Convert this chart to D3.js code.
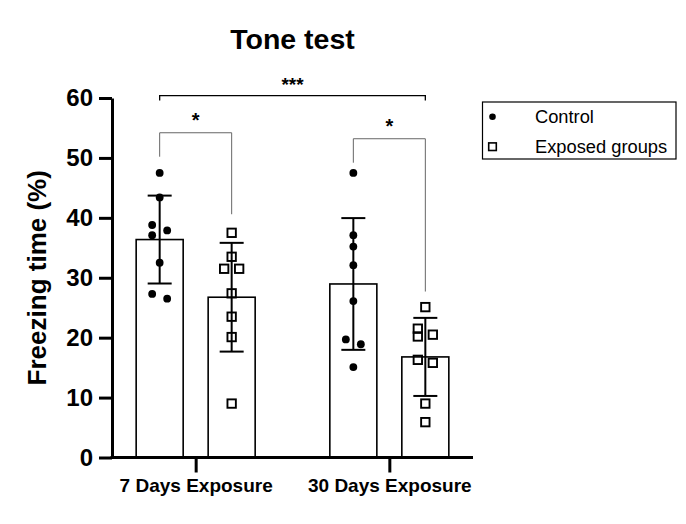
<!DOCTYPE html>
<html>
<head>
<meta charset="utf-8">
<script src="https://cdn.jsdelivr.net/npm/d3@7"></script>
<style>
  body { margin: 0; background: #fff; }
  svg text { font-family: "Liberation Sans", Arial, sans-serif; fill: #000; }
</style>
</head>
<body>
<div id="chart"></div>
<script>
const groups = ['7 Days Exposure', '30 Days Exposure']
const series = ['Control', 'Exposed groups']

// individual animals, freezing time in %
const control7 = [47.5, 43.4, 38.8, 37.9, 37.1, 32.5, 27.3, 26.5]
const exposed7 = [37.5, 33.5, 31.5, 31.5, 27.4, 23.5, 20.1, 9.0]
const control30 = [47.5, 37.1, 35.2, 32.1, 26.1, 19.7, 18.9, 15.1]
const exposed30 = [25.1, 21.5, 20.5, 20.2, 16.3, 15.8, 9.0, 5.9]

const yTicks = [0, 10, 20, 30, 40, 50, 60]

// significance brackets: y values in % units
const sigPairs = [
  { a: 0, b: 1, top: 54.2, legA: 50.2, legB: 40.6, label: '*' },
  { a: 2, b: 3, top: 53.2, legA: 49.2, legB: 27.7, label: '*' }
]
const sigOverall = { a: 0, b: 3, top: 60.4, label: '***' }

const cells = [
  { group: groups[0], serie: series[0], values: control7 },
  { group: groups[0], serie: series[1], values: exposed7 },
  { group: groups[1], serie: series[0], values: control30 },
  { group: groups[1], serie: series[1], values: exposed30 }
]
cells.forEach(c => {
  c.mean = d3.mean(c.values)
  c.sd = d3.deviation(c.values)
})

const width = 686, height = 524

let svg = d3.select('#chart').append('svg')
  .attr('width', width)
  .attr('height', height)

let y = d3.scaleLinear()
  .domain([0, 60])
  .range([457.5, 98])

let x = d3.scalePoint()
  .domain(groups)
  .range([112, 473])
  .padding(0.432)

let sub = d3.scaleBand()
  .domain(series)
  .range([-59.5, 59.5])
  .paddingInner(0.347)

const cx = c => x(c.group) + sub(c.serie) + sub.bandwidth() / 2

// bars
svg.append('g').selectAll('rect')
  .data(cells)
  .enter()
  .append('rect')
  .attr('x', c => x(c.group) + sub(c.serie))
  .attr('width', sub.bandwidth())
  .attr('y', c => y(c.mean))
  .attr('height', c => y(0) - y(c.mean))
  .style('fill', '#fff')
  .style('stroke', '#000')
  .style('stroke-width', 1.6)

// spread points that overlap: clusters alternate left / right
const dodge = (vals) => {
  let order = vals.map((v, i) => i).sort((a, b) => vals[b] - vals[a])
  let out = new Array(vals.length).fill(0)
  let cluster = [order[0]]
  const flush = () => {
    if (cluster.length > 1) cluster.forEach((idx, k) => out[idx] = k % 2 === 0 ? -7.5 : 7.5)
  }
  for (let k = 1; k < order.length; k++) {
    let prev = cluster[cluster.length - 1]
    if (y(vals[order[k]]) - y(vals[prev]) < 11) cluster.push(order[k])
    else { flush(); cluster = [order[k]] }
  }
  flush()
  return out
}

let points = []
cells.forEach(c => {
  let off = dodge(c.values)
  c.values.forEach((v, i) => points.push({ serie: c.serie, px: cx(c) + off[i], py: y(v) }))
})

let pts = svg.append('g')

pts.selectAll('circle')
  .data(points.filter(p => p.serie === series[0]))
  .enter()
  .append('circle')
  .attr('cx', p => p.px)
  .attr('cy', p => p.py)
  .attr('r', 3.9)
  .style('fill', '#000')

pts.selectAll('rect')
  .data(points.filter(p => p.serie === series[1]))
  .enter()
  .append('rect')
  .attr('x', p => p.px - 4.2)
  .attr('y', p => p.py - 4.2)
  .attr('width', 8.4)
  .attr('height', 8.4)
  .style('fill', 'none')
  .style('stroke', '#000')
  .style('stroke-width', 1.9)

// error bars (mean ± SD)
let err = svg.append('g')
  .style('stroke', '#000')
  .style('stroke-width', 2)

cells.forEach(c => {
  let xc = cx(c)
  err.append('line')
    .attr('x1', xc).attr('x2', xc)
    .attr('y1', y(c.mean + c.sd)).attr('y2', y(c.mean - c.sd))
  ;[c.mean + c.sd, c.mean - c.sd].forEach(v => {
    err.append('line')
      .attr('x1', xc - 12).attr('x2', xc + 12)
      .attr('y1', y(v)).attr('y2', y(v))
  })
})

// axes
let yAxis = svg.append('g')
  .attr('transform', 'translate(112,0)')
  .call(d3.axisLeft(y).tickValues(yTicks).tickSize(13).tickSizeOuter(0).tickPadding(6))

yAxis.selectAll('path, line').style('stroke', '#000').style('stroke-width', 3)
yAxis.selectAll('text')
  .style('font-size', '24px')
  .style('font-weight', 'bold')

let xAxis = svg.append('g')
  .attr('transform', 'translate(0,' + y(0) + ')')
  .call(d3.axisBottom(x).tickSize(15).tickSizeOuter(0).tickPadding(6))

xAxis.select('.domain').attr('d', 'M110.5,0H473')
xAxis.selectAll('path, line').style('stroke', '#000').style('stroke-width', 3)
xAxis.selectAll('text')
  .style('font-size', '19px')
  .style('font-weight', 'bold')

svg.append('text')
  .attr('transform', 'translate(46,' + (y(30)) + ') rotate(-90)')
  .attr('text-anchor', 'middle')
  .style('font-size', '26px')
  .style('font-weight', 'bold')
  .text('Freezing time (%)')

svg.append('text')
  .attr('x', 292.5)
  .attr('y', 48.5)
  .attr('text-anchor', 'middle')
  .style('font-size', '28.5px')
  .style('font-weight', 'bold')
  .text('Tone test')

// significance
let sig = svg.append('g')

sigPairs.forEach(s => {
  let xa = cx(cells[s.a]), xb = cx(cells[s.b])
  sig.append('path')
    .attr('d', 'M' + xa + ',' + y(s.legA) + 'V' + y(s.top) + 'H' + xb + 'V' + y(s.legB))
    .style('fill', 'none')
    .style('stroke', '#666')
    .style('stroke-width', 1)
  sig.append('text')
    .attr('x', (xa + xb) / 2)
    .attr('y', y(s.top) - 6)
    .attr('text-anchor', 'middle')
    .style('font-size', '20px')
    .style('font-weight', 'bold')
    .text(s.label)
})

let xa = cx(cells[sigOverall.a]), xb = cx(cells[sigOverall.b])
sig.append('path')
  .attr('d', 'M' + xa + ',' + (y(sigOverall.top) + 5) + 'V' + y(sigOverall.top) + 'H' + xb + 'V' + (y(sigOverall.top) + 5))
  .style('fill', 'none')
  .style('stroke', '#000')
  .style('stroke-width', 1.3)
sig.append('text')
  .attr('x', (xa + xb) / 2)
  .attr('y', y(sigOverall.top) - 5)
  .attr('text-anchor', 'middle')
  .style('font-size', '19px')
  .style('font-weight', 'bold')
  .text(sigOverall.label)

// legend
let legend = svg.append('g')
  .attr('transform', 'translate(482.5,102)')

legend.append('rect')
  .attr('width', 193.5)
  .attr('height', 57)
  .style('fill', '#fff')
  .style('stroke', '#000')
  .style('stroke-width', 1.2)

let items = legend.selectAll('g.item')
  .data(series)
  .enter()
  .append('g')
  .attr('class', 'item')
  .attr('transform', (d, i) => 'translate(10,' + (14.7 + i * 30) + ')')

items.filter((d, i) => i === 0).append('circle')
  .attr('r', 3.3)
  .style('fill', '#000')

items.filter((d, i) => i === 1).append('rect')
  .attr('x', -3.8).attr('y', -3.8)
  .attr('width', 7.6).attr('height', 7.6)
  .style('fill', 'none')
  .style('stroke', '#000')
  .style('stroke-width', 1.6)

items.append('text')
  .attr('x', 42.5)
  .attr('y', 6.5)
  .style('font-size', '18.3px')
  .text(d => d)
</script>
</body>
</html>
